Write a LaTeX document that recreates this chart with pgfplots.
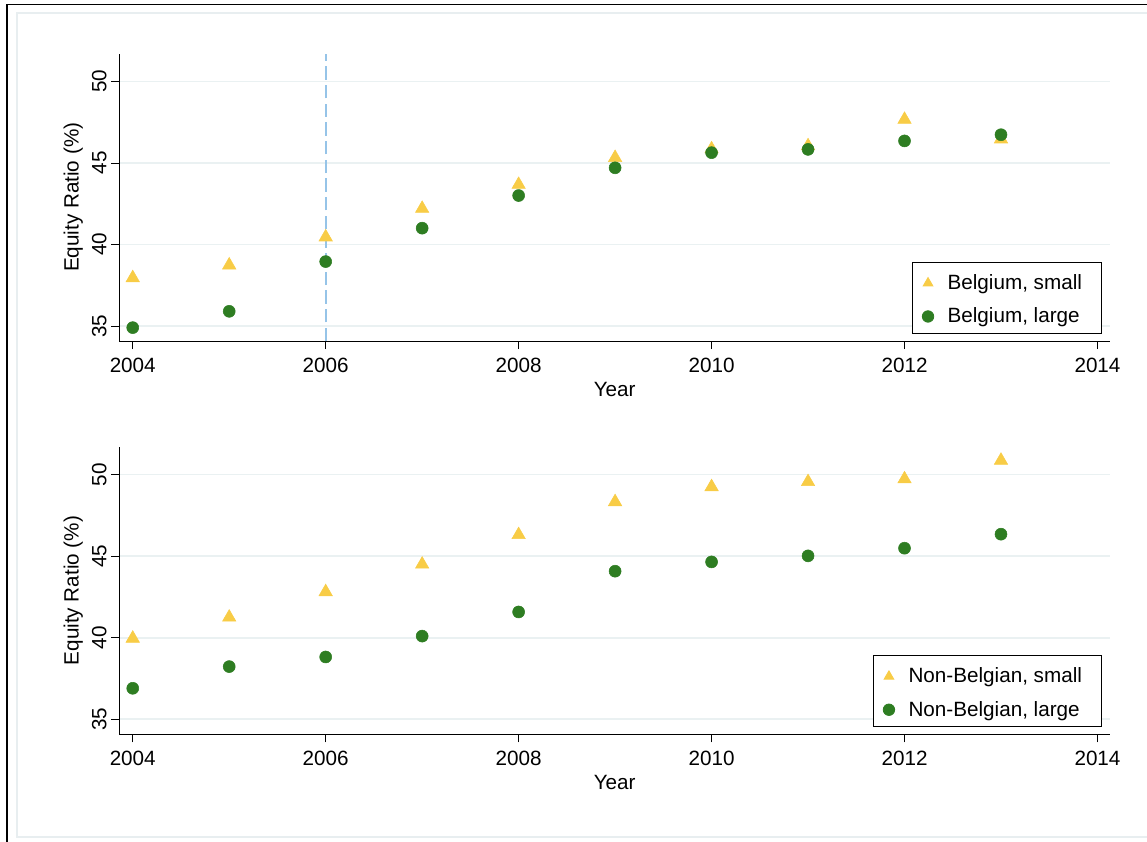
\documentclass[border=0pt]{standalone}
\usepackage{fontspec}
\setmainfont{Liberation Sans}
\usepackage{pgfplots}
\pgfplotsset{compat=1.18}
\definecolor{myyellow}{RGB}{248,204,70}
\definecolor{mygreen}{RGB}{46,125,34}
\definecolor{mygrid}{RGB}{234,241,242}
\definecolor{myvline}{RGB}{150,196,232}
\definecolor{myframe}{RGB}{232,238,240}
\newcommand{\myfont}{\fontsize{15.5}{18.5}\selectfont}
\newcommand{\lgpad}{\rule{14.7pt}{0pt}}
\pgfplotsset{
  mystyle/.style={
    scale only axis, width=743pt, height=215.5pt,
    xmin=2003.861, xmax=2014.13, ymin=34.08, ymax=51.7,
    axis x line*=bottom, axis y line*=left,
    xtick={2004,2006,...,2014}, ytick={35,40,45,50},
    /pgf/number format/1000 sep={},
    /pgf/number format/assume math mode=true,
    tick align=outside, major tick length=6pt,
    tick style={black, line width=0.6pt},
    axis line style={black, line width=0.6pt},
    ymajorgrids, grid style={mygrid, line width=1.2pt},
    yticklabel style={rotate=90, anchor=south},
    xticklabel style={yshift=-3pt},
    xlabel={Year}, ylabel={Equity Ratio (\%)},
    xlabel style={yshift=-0.5pt},
    every tick label/.append style={font=\myfont},
    label style={font=\myfont},
    legend style={at={(1,0)}, anchor=south east, xshift=-6pt, yshift=5.5pt,
      draw=black, line width=0.6pt, font=\myfont,
      inner xsep=0pt, inner ysep=1.6pt, row sep=0pt,
      nodes={inner sep=0pt}},
    legend cell align=left,
  },
  smallstyle/.style={only marks, mark=triangle*, mark size=5.8pt, color=myyellow,
    mark options={draw=myyellow, fill=myyellow},
    legend image code/.code={
      \path[draw=none, fill=none] (-11.8pt,-11pt) rectangle (14.7pt,14pt);
      \draw[##1, mark size=4.2pt] plot coordinates {(0pt,0pt)};}},
  largestyle/.style={only marks, mark=*, mark size=4.5pt, color=mygreen,
    mark options={draw=mygreen, fill=mygreen},
    legend image code/.code={
      \path[draw=none, fill=none] (-11.8pt,-11pt) rectangle (14.7pt,14pt);
      \draw[##1, mark size=4.3pt] plot coordinates {(0pt,0pt)};}},
}
\begin{document}
\begin{tikzpicture}
\useasboundingbox (0,0) rectangle (860.25pt,-631.5pt);
\draw[myframe, line width=1.5pt] (13pt,-10pt) rectangle (880pt,-627.5pt);
\draw[black, line width=0.9pt] (5.25pt,-3.2pt) -- (870pt,-3.2pt);
\draw[black, line width=0.9pt] (5.25pt,-3.2pt) -- (5.25pt,-640pt);
\begin{axis}[mystyle, at={(89.5pt,-255.75pt)}, anchor=south west]
\addplot[draw=myvline, line width=1.5pt, dash pattern=on 10pt off 4pt, forget plot] coordinates {(2006,34.08) (2006,51.7)};
\addplot[smallstyle] coordinates {
(2004,37.95) (2005,38.73) (2006,40.45) (2007,42.2) (2008,43.67)
(2009,45.32) (2010,45.85) (2011,46.04) (2012,47.66) (2013,46.46)};
\addlegendentry{Belgium, small\lgpad}
\addplot[largestyle] coordinates {
(2004,34.9) (2005,35.9) (2006,38.95) (2007,41.0) (2008,43.0)
(2009,44.7) (2010,45.63) (2011,45.83) (2012,46.35) (2013,46.73)};
\addlegendentry{Belgium, large\lgpad}
\end{axis}
\begin{axis}[mystyle, at={(89.5pt,-550.7pt)}, anchor=south west]
\addplot[smallstyle] coordinates {
(2004,39.96) (2005,41.25) (2006,42.81) (2007,44.5) (2008,46.31)
(2009,48.33) (2010,49.25) (2011,49.56) (2012,49.73) (2013,50.87)};
\addlegendentry{Non-Belgian, small\lgpad}
\addplot[largestyle] coordinates {
(2004,36.9) (2005,38.23) (2006,38.82) (2007,40.1) (2008,41.58)
(2009,44.08) (2010,44.65) (2011,45.02) (2012,45.49) (2013,46.35)};
\addlegendentry{Non-Belgian, large\lgpad}
\end{axis}
\end{tikzpicture}
\end{document}
